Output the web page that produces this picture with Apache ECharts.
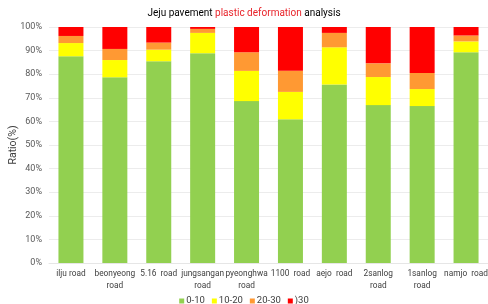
<!DOCTYPE html>
<html>
<head>
<meta charset="utf-8">
<script src="https://cdn.jsdelivr.net/npm/echarts@6/dist/echarts.min.js"></script>
<style>html,body{margin:0;padding:0;background:#fff;}#c{width:488px;height:304px;}</style>
</head>
<body>
<div id="c"></div>
<script>
const categories = ['ilju road','beonyeong\nroad','5.16  road','jungsangan\nroad','pyeonghwa\nroad','1100  road','aejo  road','2sanlog\nroad','1sanlog\nroad','namjo  road'];
const seriesNames = ['0-10','10-20','20-30',')30'];
const v0_10  = [87.6, 78.7, 85.5, 88.9, 68.6, 60.9, 75.6, 66.9, 66.5, 89.3];
const v10_20 = [5.6, 7.3, 4.9, 8.6, 12.8, 11.6, 15.8, 11.9, 7.2, 4.6];
const v20_30 = [3.0, 4.7, 3.0, 1.7, 7.9, 9.0, 6.1, 5.8, 6.8, 2.5];
const v30    = [3.8, 9.3, 6.6, 0.8, 10.7, 18.5, 2.5, 15.4, 19.5, 3.6];
const yTicks = [0,10,20,30,40,50,60,70,80,90,100];

const colors = ['#92D050','#FFFF00','#FF9933','#FF0000'];
const values = [v0_10, v10_20, v20_30, v30];

const chart = echarts.init(document.getElementById('c'), null, {renderer:'canvas'});
chart.setOption({
  animation: false,
  textStyle: {fontFamily: 'Roboto, "Liberation Sans", sans-serif'},
  title: {
    text: '{b|Jeju pavement }{r|plastic deformation}{b| analysis}',
    left: 'center', top: 3,
    textStyle: {
      rich: {
        b: {fontSize: 10, color: '#000', fontWeight: 'normal', fontFamily: 'Roboto, sans-serif'},
        r: {fontSize: 10, color: '#E8232A', fontWeight: 'normal', fontFamily: 'Roboto, sans-serif'}
      }
    }
  },
  grid: {left: 49, right: 0, top: 27, bottom: 41, containLabel: false, outerBoundsMode: 'none'},
  legend: {
    data: seriesNames,
    top: 291, left: 'center',
    icon: 'rect', itemWidth: 5, itemHeight: 5, itemGap: 7,
    textStyle: {fontSize: 9.5, color: '#404040', padding: [0,0,0,-3]}
  },
  xAxis: {
    type: 'category',
    data: categories,
    axisTick: {show: false},
    axisLine: {show: true, lineStyle: {color: '#e6e6e6'}},
    axisLabel: {interval: 0, fontSize: 8.3, color: '#404040', margin: 5, lineHeight: 12}
  },
  yAxis: {
    type: 'value', min: yTicks[0], max: yTicks[yTicks.length-1], interval: 10,
    name: 'Ratio(%)', nameLocation: 'middle', nameGap: 30, nameMoveOverlap: false,
    nameTextStyle: {fontSize: 10.5, color: '#404040'},
    axisLabel: {formatter: '{value}%', fontSize: 9, color: '#595959', margin: 7},
    splitLine: {lineStyle: {color: '#ececec'}},
    axisLine: {show: false}, axisTick: {show: false}
  },
  series: seriesNames.map((n, i) => ({
    name: n, type: 'bar', stack: 'total', barWidth: 25,
    itemStyle: {color: colors[i]},
    data: values[i]
  }))
});
</script>
</body>
</html>
